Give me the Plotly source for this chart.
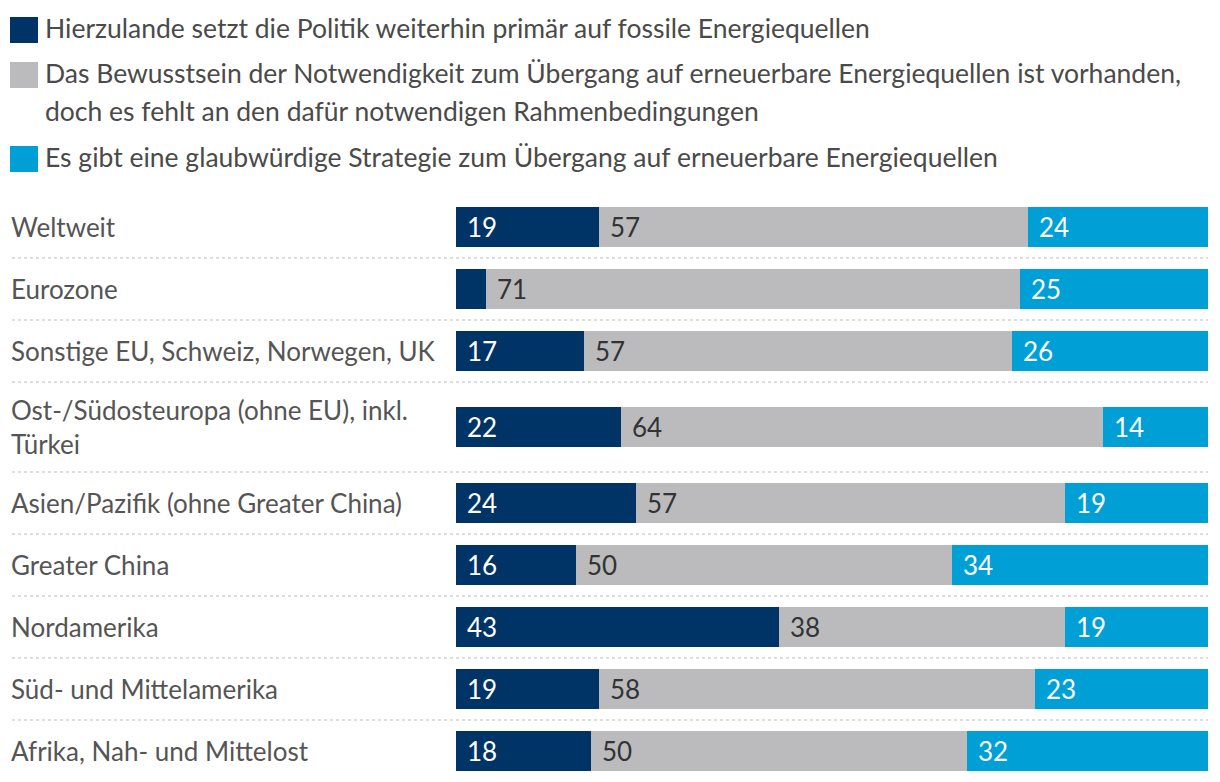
import plotly.graph_objects as go

categories = [
    "Weltweit",
    "Eurozone",
    "Sonstige EU, Schweiz, Norwegen, UK",
    "Ost-/Südosteuropa (ohne EU), inkl.<br>Türkei",
    "Asien/Pazifik (ohne Greater China)",
    "Greater China",
    "Nordamerika",
    "Süd- und Mittelamerika",
    "Afrika, Nah- und Mittelost",
]
fossil = [19, 4, 17, 22, 24, 16, 43, 19, 18]
awareness = [57, 71, 57, 64, 57, 50, 38, 58, 50]
strategy = [24, 25, 26, 14, 19, 34, 19, 23, 32]

series_names = [
    "Hierzulande setzt die Politik weiterhin primär auf fossile Energiequellen",
    "Das Bewusstsein der Notwendigkeit zum Übergang auf erneuerbare Energiequellen ist vorhanden,<br>doch es fehlt an den dafür notwendigen Rahmenbedingungen",
    "Es gibt eine glaubwürdige Strategie zum Übergang auf erneuerbare Energiequellen",
]
colors = ["#003366", "#bbbbbd", "#00a0d6"]
value_colors = ["#ffffff", "#333333", "#ffffff"]

FONT = "Lato"
FS = 26
FS_LEG = 26.5
W, H = 1220, 782
PLOT_X0, PLOT_X1 = 456, 1208
PLOT_TOP = 196

# row layout (pixel-like units): taller rows for wrapped labels
base_row, extra_line = 62, 28
row_h = [base_row + extra_line * c.count("<br>") for c in categories]
bounds = [0]
for h in row_h:
    bounds.append(bounds[-1] + h)
centers = [(bounds[i] + bounds[i + 1]) / 2 for i in range(len(categories))]
total = bounds[-1]

px = lambda p: p / W
py = lambda p: 1 - p / H

fig = go.Figure()
series = [fossil, awareness, strategy]
for name, vals, col in zip(series_names, series, colors):
    fig.add_trace(go.Bar(
        x=vals, y=centers, orientation="h", width=40,
        marker=dict(color=col, line=dict(width=0)),
        name=name.replace("<br>", " "), showlegend=False, hoverinfo="x",
    ))

annotations = []
shapes = []

# value labels inside the bars
for i in range(len(categories)):
    start = 0
    for s, vals in enumerate(series):
        v = vals[i]
        if v >= 8:
            annotations.append(dict(
                x=start, y=centers[i], xref="x", yref="y", text=str(v),
                showarrow=False, xanchor="left", yanchor="middle", xshift=9,
                font=dict(family=FONT, size=FS, color=value_colors[s]),
            ))
        start += v

# category labels
for i, c in enumerate(categories):
    annotations.append(dict(
        x=px(9), y=centers[i], xref="paper", yref="y", text=c,
        showarrow=False, xanchor="left", yanchor="middle", align="left",
        font=dict(family=FONT, size=FS, color="#555555"),
    ))

# dotted separators
for b in bounds[1:-1]:
    shapes.append(dict(
        type="line", xref="paper", yref="y", x0=px(12), x1=px(PLOT_X1), y0=b, y1=b,
        line=dict(color="#dddddd", width=2, dash="dot"),
    ))

# legend (manual)
leg_y = [30, 75, 159]
line_gap = 38
for name, col, yc in zip(series_names, colors, leg_y):
    shapes.append(dict(
        type="rect", xref="paper", yref="paper",
        x0=px(10), x1=px(38), y0=py(yc - 13), y1=py(yc + 13),
        fillcolor=col, line=dict(width=0), layer="below",
    ))
    for k, line in enumerate(name.split("<br>")):
        annotations.append(dict(
            x=px(43), y=py(yc - 2 + k * line_gap), xref="paper", yref="paper",
            text=line, showarrow=False, xanchor="left", yanchor="middle",
            font=dict(family=FONT, size=FS_LEG, color="#4a4a4a"),
        ))

fig.update_layout(
    width=W, height=H,
    margin=dict(l=0, r=0, t=0, b=0, pad=0),
    barmode="stack", bargap=0,
    plot_bgcolor="white", paper_bgcolor="white",
    xaxis=dict(range=[0, 100], visible=False, fixedrange=True,
               domain=[px(PLOT_X0), px(PLOT_X1)]),
    yaxis=dict(range=[total, 0], visible=False, fixedrange=True,
               domain=[0, 1 - PLOT_TOP / H]),
    annotations=annotations, shapes=shapes,
    font=dict(family=FONT, size=FS),
)

fig.write_html("out.html", config={"displayModeBar": False},
               post_script="document.body.style.margin='0';")
